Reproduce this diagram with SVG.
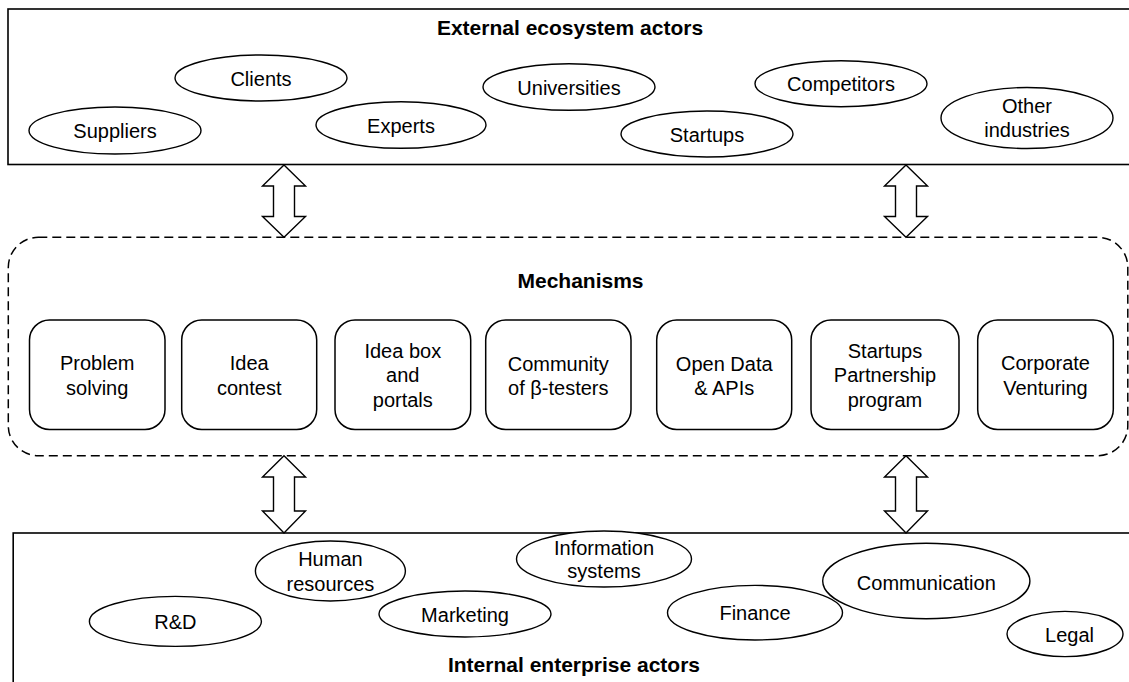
<svg xmlns="http://www.w3.org/2000/svg" width="1129" height="682" viewBox="0 0 1129 682">
<defs>
<style>
.bg{fill:#fff}
.frame{fill:none;stroke:#000;stroke-width:1.6}
.dash{fill:none;stroke:#000;stroke-width:1.5;stroke-dasharray:9,5}
.ell{fill:#fff;stroke:#000;stroke-width:1.4}
.box{fill:#fff;stroke:#000;stroke-width:1.5}
.arr{fill:#fff;stroke:#000;stroke-width:1.4;stroke-linejoin:miter}
.t{font-family:"Liberation Sans",Arial,sans-serif;font-size:20px;fill:#000;text-anchor:middle}
.h{font-family:"Liberation Sans",Arial,sans-serif;font-size:21px;font-weight:bold;fill:#000;text-anchor:middle}
</style>
</defs>
<rect class="bg" x="0" y="0" width="1129" height="682"/>

<g id="external">
<rect class="frame" x="8" y="9" width="1125" height="155.5"/>
<text class="h" x="570" y="35">External ecosystem actors</text>
</g>
<g id="clients"><ellipse class="ell" cx="261" cy="78" rx="86" ry="23"/><text class="t" x="261" y="86">Clients</text></g>
<g id="suppliers"><ellipse class="ell" cx="115" cy="130.5" rx="86" ry="23.5"/><text class="t" x="115" y="138">Suppliers</text></g>
<g id="experts"><ellipse class="ell" cx="401" cy="125" rx="85" ry="23.3"/><text class="t" x="401" y="132.5">Experts</text></g>
<g id="universities"><ellipse class="ell" cx="569" cy="87" rx="86" ry="23.3"/><text class="t" x="569" y="95">Universities</text></g>
<g id="startups"><ellipse class="ell" cx="707" cy="134" rx="86" ry="23"/><text class="t" x="707" y="141.5">Startups</text></g>
<g id="competitors"><ellipse class="ell" cx="841" cy="83.7" rx="86" ry="23"/><text class="t" x="841" y="91">Competitors</text></g>
<g id="other-industries"><ellipse class="ell" cx="1027" cy="118" rx="86" ry="30.5"/><text class="t" x="1027" y="113">Other</text><text class="t" x="1027" y="136.5">industries</text></g>

<g id="mechanisms">
<rect class="dash" x="8.3" y="237.3" width="1119.5" height="218.4" rx="30" ry="30"/>
<text class="h" x="580.5" y="288.3">Mechanisms</text>
</g>
<g id="problem-solving"><rect class="box" x="29.5" y="320" width="135.5" height="109.5" rx="20" ry="20"/><text class="t" x="97.2" y="370">Problem</text><text class="t" x="97.2" y="395">solving</text></g>
<g id="idea-contest"><rect class="box" x="181.7" y="320" width="135" height="109.5" rx="20" ry="20"/><text class="t" x="249.2" y="370">Idea</text><text class="t" x="249.2" y="395">contest</text></g>
<g id="idea-box"><rect class="box" x="335" y="320" width="135.7" height="109.5" rx="20" ry="20"/><text class="t" x="402.8" y="357.5">Idea box</text><text class="t" x="402.8" y="382">and</text><text class="t" x="402.8" y="406.5">portals</text></g>
<g id="beta-testers"><rect class="box" x="485.7" y="320" width="145.3" height="109.5" rx="20" ry="20"/><text class="t" x="558.3" y="370.5">Community</text><text class="t" x="558.3" y="394.5">of β-testers</text></g>
<g id="open-data"><rect class="box" x="656.7" y="320" width="135" height="109.5" rx="20" ry="20"/><text class="t" x="724.2" y="370.5">Open Data</text><text class="t" x="724.2" y="394.5">&amp; APIs</text></g>
<g id="startups-partnership"><rect class="box" x="811" y="320" width="148" height="109.5" rx="20" ry="20"/><text class="t" x="885" y="357.5">Startups</text><text class="t" x="885" y="382">Partnership</text><text class="t" x="885" y="406.5">program</text></g>
<g id="corporate-venturing"><rect class="box" x="977.7" y="320" width="135.6" height="109.5" rx="20" ry="20"/><text class="t" x="1045.5" y="370">Corporate</text><text class="t" x="1045.5" y="395">Venturing</text></g>

<g id="internal">
<rect class="frame" x="13.2" y="533" width="1125" height="160"/>
<text class="h" x="574" y="672.3">Internal enterprise actors</text>
</g>
<g id="rd"><ellipse class="ell" cx="175.4" cy="621.4" rx="86" ry="25"/><text class="t" x="175.4" y="628.6">R&amp;D</text></g>
<g id="human-resources"><ellipse class="ell" cx="330.4" cy="571" rx="75" ry="30"/><text class="t" x="330.4" y="566">Human</text><text class="t" x="330.4" y="591">resources</text></g>
<g id="marketing"><ellipse class="ell" cx="465" cy="614" rx="86" ry="23"/><text class="t" x="465" y="621.7">Marketing</text></g>
<g id="information-systems"><ellipse class="ell" cx="604" cy="559" rx="87.5" ry="28"/><text class="t" x="604" y="555">Information</text><text class="t" x="604" y="578.3">systems</text></g>
<g id="finance"><ellipse class="ell" cx="755" cy="612.7" rx="87.5" ry="27.3"/><text class="t" x="755" y="620">Finance</text></g>
<g id="communication"><ellipse class="ell" cx="926.3" cy="581" rx="103.6" ry="37.7"/><text class="t" x="926.3" y="589.7">Communication</text></g>
<g id="legal"><ellipse class="ell" cx="1065" cy="634" rx="58" ry="22.6"/><text class="t" x="1069.5" y="642.3">Legal</text></g>

<g id="connectors">
<polygon class="arr" points="284,165 305.5,186 294.5,186 294.5,216.5 305.5,216.5 284,237.3 262.5,216.5 273.5,216.5 273.5,186 262.5,186"/>
<polygon class="arr" points="906,165 927.5,186 916.5,186 916.5,216.5 927.5,216.5 906,237.3 884.5,216.5 895.5,216.5 895.5,186 884.5,186"/>
<polygon class="arr" points="284,455.7 305.5,477 294.5,477 294.5,511 305.5,511 284,533 262.5,511 273.5,511 273.5,477 262.5,477"/>
<polygon class="arr" points="906,455.7 927.5,477 916.5,477 916.5,511 927.5,511 906,533 884.5,511 895.5,511 895.5,477 884.5,477"/>
</g>
</svg>
